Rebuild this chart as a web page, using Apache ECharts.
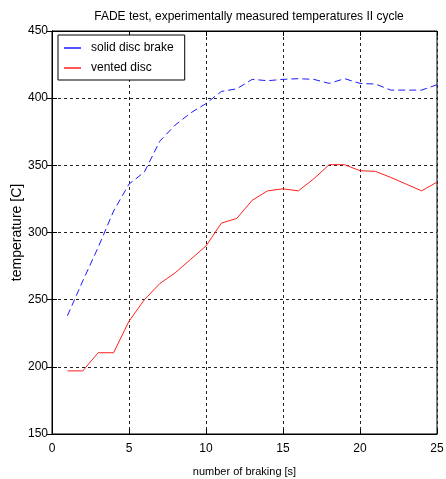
<!DOCTYPE html>
<html>
<head>
<meta charset="utf-8">
<script src="https://cdn.jsdelivr.net/npm/echarts@6/dist/echarts.min.js"></script>
<style>
html,body{margin:0;padding:0;background:#fff;}
#chart{width:446px;height:479px;}
</style>
</head>
<body>
<div id="chart"></div>
<script>
const titleText = 'FADE test, experimentally measured temperatures II cycle';
const xName = 'number of braking [s]';
const yName = 'temperature [C]';
const braking = [1,2,3,4,5,6,7,8,9,10,11,12,13,14,15,16,17,18,19,20,21,22,23,24,25];
const solidDisc = [238,264,289,316,336,345,368,380,389,396,405,407,414,413,414,414.5,414,411,414.5,411,410.5,406,406,406,410];
const ventedDisc = [197,197,210.5,210.5,234,250,262,270,280,290,307,310.5,324,331,332.5,331,340,350.5,350.5,346,345.5,341,336,331,337.5];
const seriesNames = ['solid disc brake','vented disc'];

const FONT = '"Liberation Sans",Arial,sans-serif';
const chart = echarts.init(document.getElementById('chart'));
const pair = (xs, ys) => xs.map((x,i)=>[x, ys[i]]);
const gridLine = {show:true, lineStyle:{color:'#222', width:1, type:[3,3]}};
chart.setOption({
  backgroundColor:'#fff',
  animation:false,
  title:{text:titleText, left:244, textAlign:'center', top:6,
    textStyle:{fontFamily:FONT, fontSize:12, fontWeight:'normal', color:'#000'}},
  legend:{
    left:58, top:35, orient:'vertical', icon:'rect',
    padding:[6,11,5,6], itemGap:6, itemWidth:17, itemHeight:1.5,
    borderColor:'#000', borderWidth:1, backgroundColor:'#fff',
    textStyle:{fontFamily:FONT, fontSize:12, color:'#000', lineHeight:14, padding:[0,0,0,5]},
    data:seriesNames
  },
  grid:{left:52, right:9, top:31, bottom:45, outerBoundsMode:'none', containLabel:false,
    show:true, borderColor:'#000', borderWidth:1, backgroundColor:'#fff'},
  xAxis:[{
    type:'value', min:0, max:25, interval:5, position:'bottom',
    name:xName, nameLocation:'middle', nameGap:32, nameMoveOverlap:false,
    nameTextStyle:{fontFamily:FONT, fontSize:11, color:'#000'},
    axisLine:{lineStyle:{color:'#000'}},
    axisTick:{inside:true, length:5, lineStyle:{color:'#000'}},
    axisLabel:{fontFamily:FONT, fontSize:12, color:'#000', margin:9},
    splitLine:gridLine
  },{
    type:'value', min:0, max:25, interval:5, position:'top',
    axisLine:{lineStyle:{color:'#000'}},
    axisTick:{inside:true, length:5, lineStyle:{color:'#000'}},
    axisLabel:{show:false}, splitLine:{show:false}
  }],
  yAxis:[{
    type:'value', min:150, max:450, interval:50, position:'left',
    name:yName, nameLocation:'middle', nameGap:28, nameRotate:90, nameMoveOverlap:false,
    nameTextStyle:{fontFamily:FONT, fontSize:14, color:'#000'},
    axisLine:{show:true, lineStyle:{color:'#000'}},
    axisTick:{show:true, inside:true, length:5, lineStyle:{color:'#000'}},
    axisLabel:{fontFamily:FONT, fontSize:12, color:'#000', margin:4},
    splitLine:gridLine
  },{
    type:'value', min:150, max:450, interval:50, position:'right',
    axisLine:{show:true, lineStyle:{color:'#000'}},
    axisTick:{show:true, inside:true, length:5, lineStyle:{color:'#000'}},
    axisLabel:{show:false}, splitLine:{show:false}
  }],
  series:[{
    name:seriesNames[0], type:'line', symbol:'none',
    data:pair(braking, solidDisc),
    lineStyle:{color:'#1a1aff', width:1, type:[7,4]},
    itemStyle:{color:'#1a1aff'}
  },{
    name:seriesNames[1], type:'line', symbol:'none',
    data:pair(braking, ventedDisc),
    lineStyle:{color:'#ff2020', width:1},
    itemStyle:{color:'#ff2020'}
  }]
});
</script>
</body>
</html>
